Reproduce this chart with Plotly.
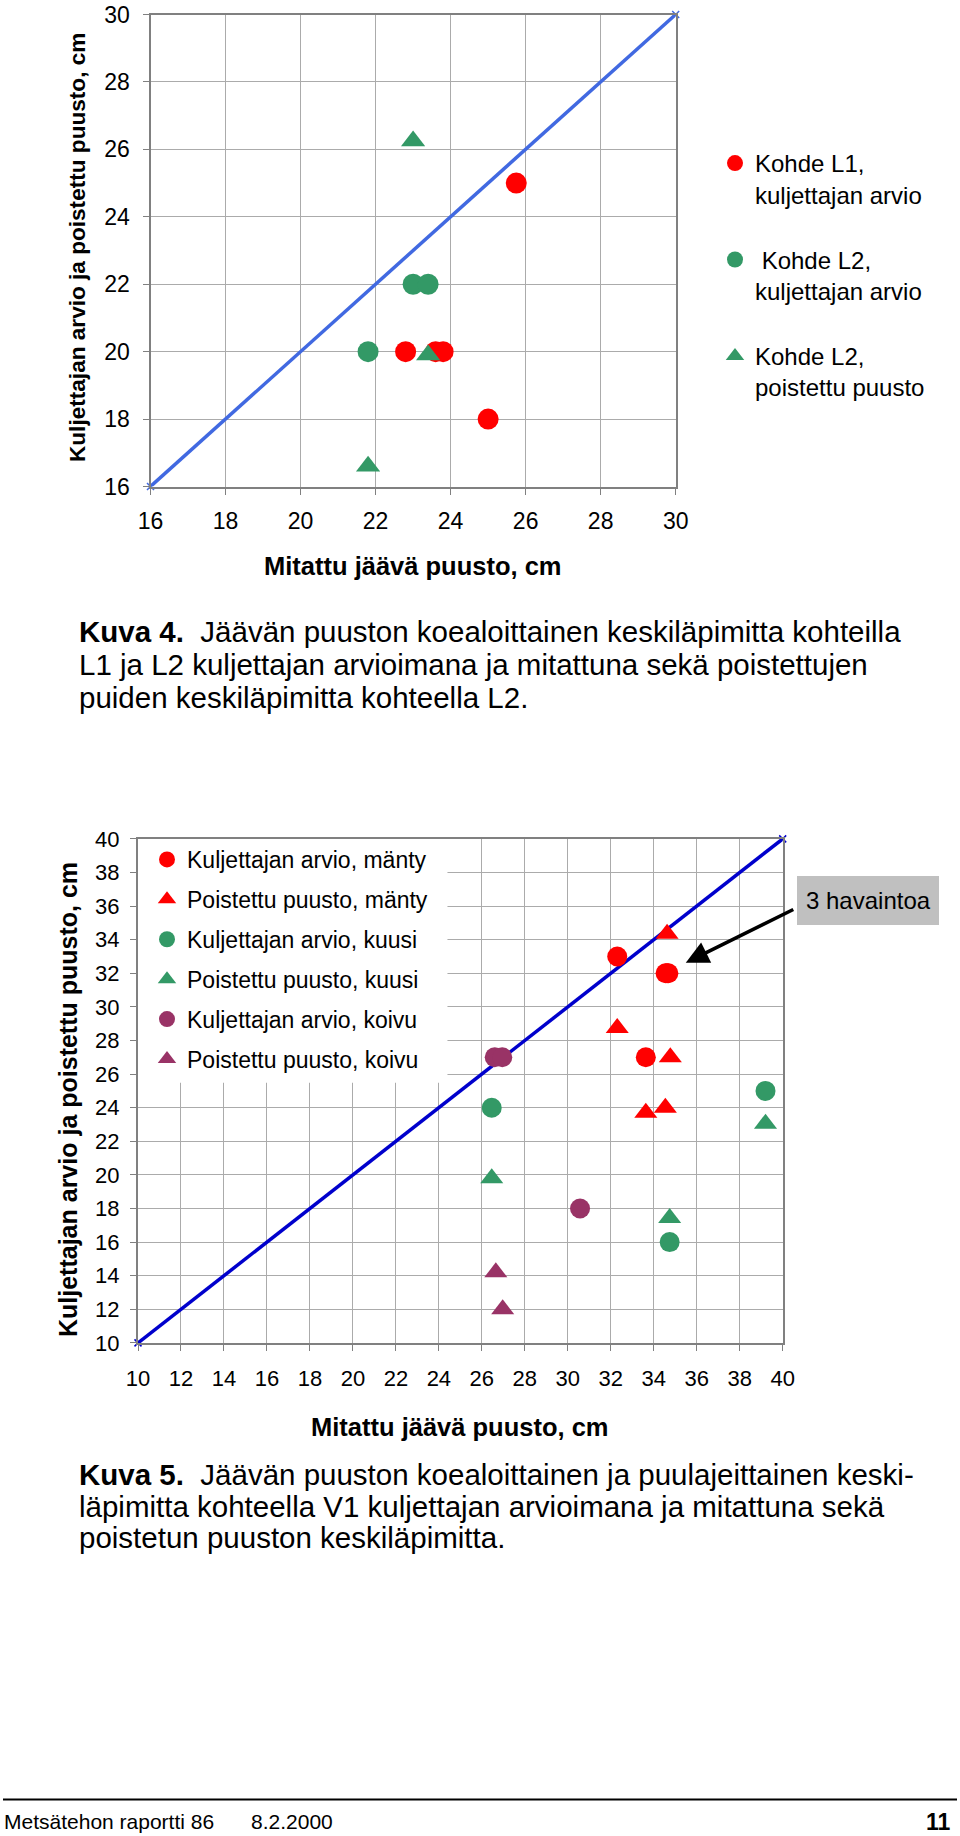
import plotly.graph_objects as go

W, H = 960, 1836
FONT = "Liberation Sans"

# ---------------- Data: Kuva 4 ----------------
l1_arvio_x = [25.75, 22.8, 23.6, 23.8, 25.0]
l1_arvio_y = [25, 20, 20, 20, 18]
l2_arvio_x = [21.8, 23.0, 23.4]
l2_arvio_y = [20, 22, 22]
l2_poist_x = [23.0, 23.4, 21.8]
l2_poist_y = [26.25, 19.9, 16.6]
diag1 = [16, 30]
ticks1 = list(range(16, 31, 2))

# ---------------- Data: Kuva 5 ----------------
manty_arvio_x = [32.3, 34.55, 34.62, 34.68, 33.63]
manty_arvio_y = [33, 32, 32, 32, 27]
manty_poist_x = [34.62, 32.3, 34.77, 33.63, 34.54]
manty_poist_y = [34.35, 28.75, 27.0, 23.7, 24.0]
kuusi_arvio_x = [26.46, 39.2, 34.74]
kuusi_arvio_y = [24, 25, 16]
kuusi_poist_x = [26.46, 39.2, 34.74]
kuusi_poist_y = [19.8, 23.05, 17.43]
koivu_arvio_x = [26.6, 26.95, 30.57]
koivu_arvio_y = [27, 27, 18]
koivu_poist_x = [26.65, 26.97]
koivu_poist_y = [14.2, 12.0]
diag2 = [10, 40]
ticks2 = list(range(10, 41, 2))

RED = "#FF0000"
GREEN = "#339966"
PURPLE = "#993366"
BLUE1 = "#4169E1"
BLUE2 = "#0000CC"

def px(x):
    return x / W

def py(y):
    return 1 - y / H

fig = go.Figure()

# ---- chart 1 traces
fig.add_trace(go.Scatter(x=diag1, y=diag1, mode="lines+markers", xaxis="x", yaxis="y",
                         line=dict(color=BLUE1, width=3.5),
                         marker=dict(symbol="x-thin", size=7, line=dict(color=BLUE1, width=1.5)),
                         showlegend=False, cliponaxis=False, hoverinfo="skip"))
fig.add_trace(go.Scatter(x=l1_arvio_x, y=l1_arvio_y, mode="markers", xaxis="x", yaxis="y",
                         name="Kohde L1,<br>kuljettajan arvio", legend="legend", legendgroup="a",
                         marker=dict(symbol="circle", size=21, color=RED)))
fig.add_trace(go.Scatter(x=l2_arvio_x, y=l2_arvio_y, mode="markers", xaxis="x", yaxis="y",
                         name="\u00a0Kohde L2,<br>kuljettajan arvio", legend="legend", legendgroup="b",
                         marker=dict(symbol="circle", size=21, color=GREEN)))
fig.add_trace(go.Scatter(x=l2_poist_x, y=l2_poist_y, mode="markers", xaxis="x", yaxis="y",
                         name="Kohde L2,<br>poistettu puusto", legend="legend", legendgroup="c",
                         marker=dict(symbol="triangle-up", size=21, color=GREEN)))

# ---- chart 2 traces
fig.add_trace(go.Scatter(x=diag2, y=diag2, mode="lines+markers", xaxis="x2", yaxis="y2",
                         line=dict(color=BLUE2, width=3.5),
                         marker=dict(symbol="x-thin", size=7, line=dict(color=BLUE2, width=1.5)),
                         showlegend=False, cliponaxis=False, hoverinfo="skip"))
series2 = [
    ("Kuljettajan arvio, mänty", manty_arvio_x, manty_arvio_y, "circle", RED),
    ("Poistettu puusto, mänty", manty_poist_x, manty_poist_y, "triangle-up", RED),
    ("Kuljettajan arvio, kuusi", kuusi_arvio_x, kuusi_arvio_y, "circle", GREEN),
    ("Poistettu puusto, kuusi", kuusi_poist_x, kuusi_poist_y, "triangle-up", GREEN),
    ("Kuljettajan arvio, koivu", koivu_arvio_x, koivu_arvio_y, "circle", PURPLE),
    ("Poistettu puusto, koivu", koivu_poist_x, koivu_poist_y, "triangle-up", PURPLE),
]
for i, (nm, xs, ys, sym, col) in enumerate(series2):
    fig.add_trace(go.Scatter(x=xs, y=ys, mode="markers", xaxis="x2", yaxis="y2",
                             name=nm, legend="legend2", legendgroup="g%d" % i,
                             marker=dict(symbol=sym, size=20, color=col)))

def axis_common(size):
    return dict(showline=True, mirror=True, linecolor="#808080", linewidth=2,
                showgrid=True, gridcolor="#ABABAB", gridwidth=1, zeroline=False,
                ticks="outside", ticklen=6, tickcolor="#808080", tickwidth=1,
                automargin=False,
                tickfont=dict(family=FONT, size=size, color="black"))

fig.update_layout(
    width=W, height=H, margin=dict(l=0, r=0, t=0, b=0, autoexpand=False),
    paper_bgcolor="white", plot_bgcolor="white",
    font=dict(family=FONT, color="black"),
    xaxis=dict(domain=[px(150.5), px(675.7)], range=[16, 30], tickvals=ticks1,
               anchor="y", ticklabelstandoff=7, **axis_common(23)),
    yaxis=dict(domain=[py(486.5), py(14.5)], range=[16, 30], tickvals=ticks1,
               anchor="x", ticklabelstandoff=8, **axis_common(23)),
    xaxis2=dict(domain=[px(138), px(782.7)], range=[10, 40], tickvals=ticks2,
                anchor="y2", ticklabelstandoff=9, **axis_common(22)),
    yaxis2=dict(domain=[py(1342.9), py(838.9)], range=[10, 40], tickvals=ticks2,
                anchor="x2", ticklabelstandoff=6, **axis_common(22)),
    legend=dict(x=px(715), y=py(141), xanchor="left", yanchor="top",
                bgcolor="rgba(0,0,0,0)", font=dict(family=FONT, size=24, color="black"),
                traceorder="grouped", tracegroupgap=31, valign="top", itemsizing="trace"),
    legend2=dict(x=px(147), y=py(838), xanchor="left", yanchor="top",
                 bgcolor="rgba(0,0,0,0)", font=dict(family=FONT, size=23, color="black"),
                 traceorder="grouped", tracegroupgap=7, itemsizing="trace"),
    showlegend=True,
)

shapes = [
    # white background of chart-2 legend (hides gridlines)
    dict(type="rect", xref="x2", yref="y2", x0=10, x1=24.4, y0=25.48, y1=40,
         fillcolor="white", line=dict(width=0), layer="between"),
    # "3 havaintoa" box
    dict(type="rect", xref="paper", yref="paper", x0=px(797), x1=px(939), y0=py(925), y1=py(876),
         fillcolor="#C0C0C0", line=dict(width=0), layer="above"),
    # footer rule
    dict(type="line", xref="paper", yref="paper", x0=px(3), x1=px(957), y0=py(1799.5), y1=py(1799.5),
         line=dict(color="black", width=2)),
]

def ann(text, x, y, size, xanchor="left", angle=0, bold=False):
    return dict(text=("<b>%s</b>" % text) if bold else text, x=px(x), y=py(y), xref="paper", yref="paper",
                xanchor=xanchor, yanchor="middle", showarrow=False, textangle=angle,
                font=dict(family=FONT, size=size, color="black"))

annotations = [
    ann("Mitattu jäävä puusto, cm", 413, 565.5, 25.5, "center", bold=True),
    ann("Kuljettajan arvio ja poistettu puusto, cm", 77, 248, 22.6, "center", angle=-90, bold=True),
    ann("Mitattu jäävä puusto, cm", 460, 1426.7, 25.5, "center", bold=True),
    ann("Kuljettajan arvio ja poistettu puusto, cm", 68, 1100, 25, "center", angle=-90, bold=True),
    ann("<b>Kuva 4.</b>\u00a0 Jäävän puuston koealoittainen keskiläpimitta kohteilla", 77, 631, 29.5),
    ann("L1 ja L2 kuljettajan arvioimana ja mitattuna sekä poistettujen", 77, 664, 29.5),
    ann("puiden keskiläpimitta kohteella L2.", 77, 697, 29.5),
    ann("<b>Kuva 5.</b>\u00a0 Jäävän puuston koealoittainen ja puulajeittainen keski-", 77, 1474.5, 29.5),
    ann("läpimitta kohteella V1 kuljettajan arvioimana ja mitattuna sekä", 77, 1506, 29.5),
    ann("poistetun puuston keskiläpimitta.", 77, 1537.7, 29.5),
    ann("Metsätehon raportti 86", 2, 1821.6, 21),
    ann("8.2.2000", 249, 1821.6, 21),
    ann("11", 953, 1821.6, 23, "right", bold=True),
    ann("3 havaintoa", 868, 900.5, 24, "center"),
    # arrow
    dict(text="", xref="x2", yref="y2", x=35.49, y=32.63, ax=109, ay=-54,
         showarrow=True, arrowhead=2, arrowsize=1.3, arrowwidth=3.5, arrowcolor="black", standoff=0),
]

fig.update_layout(shapes=shapes, annotations=annotations)
fig.write_html("out.html", config={"displayModeBar": False},
               post_script="document.body.style.margin='0';document.body.style.padding='0';")
